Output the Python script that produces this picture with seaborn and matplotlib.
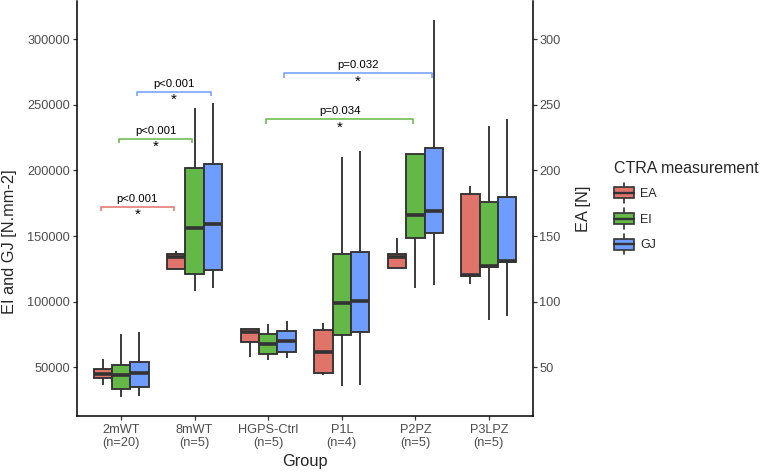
"""Boxplots of CTRA measurements (EA, EI, GJ) per mouse group with significance brackets"""

import numpy as np
import pandas as pd
import matplotlib
matplotlib.use('Agg')
import matplotlib.pyplot as plt
import seaborn as sns
from matplotlib.legend_handler import HandlerBase
from matplotlib.patches import Patch, Rectangle
from matplotlib.lines import Line2D

# Groups and sample sizes
group_names = ['2mWT', '8mWT', 'HGPS-Ctrl', 'P1L', 'P2PZ', 'P3LPZ']
group_n = [20, 5, 5, 4, 5, 5]
measures = ['EA', 'EI', 'GJ']

# five-number summaries per group: [lower whisker, Q1, median, Q3, upper whisker]
# EA in N (right axis), EI and GJ in N.mm-2 (left axis)
ea_summary = [
    [36.5, 41.9, 45.0, 49.0, 56.6],
    [125.3, 125.3, 133.9, 136.7, 139.0],
    [57.6, 69.4, 77.2, 79.0, 79.5],
    [44.2, 45.4, 61.4, 78.5, 83.9],
    [125.8, 125.8, 134.2, 136.5, 148.7],
    [113.3, 119.4, 120.5, 181.8, 188.1],
]
ei_summary = [
    [27600, 33500, 43900, 52000, 75700],
    [108500, 121500, 156000, 201600, 247300],
    [55300, 60500, 68100, 75700, 83100],
    [35500, 74900, 99400, 136000, 210500],
    [110500, 148700, 166000, 212300, 212300],
    [86400, 126600, 127400, 175900, 233900],
]
gj_summary = [
    [28400, 35000, 45700, 53800, 76700],
    [110500, 124500, 159400, 205200, 251000],
    [56900, 61700, 69800, 78000, 85100],
    [36800, 76700, 100900, 137700, 214800],
    [113100, 152000, 169300, 217100, 314700],
    [89400, 130600, 131200, 180000, 239000],
]

# significance comparisons: (group a, group b, measure, label)
comparisons = [
    ('2mWT', '8mWT', 'EA', 'p<0.001'),
    ('2mWT', '8mWT', 'EI', 'p<0.001'),
    ('2mWT', '8mWT', 'GJ', 'p<0.001'),
    ('HGPS-Ctrl', 'P2PZ', 'EI', 'p=0.034'),
    ('HGPS-Ctrl', 'P2PZ', 'GJ', 'p=0.032'),
]
bracket_heights = [172400, 224000, 260000, 239000, 274100]

EA_SCALE = 1000  # EA [N] shown on the left axis scale as EA * 1000

palette = {'EA': '#E0736A', 'EI': '#63B847', 'GJ': '#6F9CFF'}
line_col = '#333333'
tick_col = '#4D4D4D'


class BoxKey(HandlerBase):
    """ggplot-like boxplot legend key"""
    def create_artists(self, legend, orig_handle, xdescent, ydescent,
                       width, height, fontsize, trans):
        fc = orig_handle.get_facecolor()
        x0, y0 = -xdescent, -ydescent
        bh = height * 0.66
        by = y0 + (height - bh) / 2
        xm = x0 + width / 2
        lo = Line2D([xm, xm], [y0 - 1, by], color=line_col, lw=1.2, transform=trans)
        hi = Line2D([xm, xm], [by + bh, y0 + height + 1], color=line_col, lw=1.2, transform=trans)
        rect = Rectangle((x0, by), width, bh, facecolor=fc, edgecolor=line_col,
                         lw=1.2, transform=trans)
        med = Line2D([x0, x0 + width], [y0 + height / 2] * 2, color=line_col,
                     lw=1.7, transform=trans)
        return [lo, hi, rect, med]


def build_frame():
    rows = []
    for measure, summary in zip(measures, [ea_summary, ei_summary, gj_summary]):
        scale = EA_SCALE if measure == 'EA' else 1
        for g, vals in zip(group_names, summary):
            for v in vals:
                rows.append({'group': g, 'measure': measure, 'value': v * scale})
    return pd.DataFrame(rows)


def main():
    sns.set_style('ticks')
    plt.rcParams['font.family'] = ['Liberation Sans', 'DejaVu Sans']

    df = build_frame()

    fig = plt.figure(figsize=(7.62, 4.72), dpi=100)
    ax = fig.add_axes([0.101, 0.1193, 0.5985, 0.8787])

    sns.boxplot(
        data=df, x='group', y='value', hue='measure',
        order=group_names, hue_order=measures, palette=palette,
        width=0.75, gap=0, whis=1.5, showfliers=False, showcaps=False,
        linewidth=1.35, linecolor=line_col, saturation=1,
        medianprops={'linewidth': 2.6, 'color': line_col},
        legend=False, ax=ax,
    )

    ylo, yhi = 13245, 329055
    ax.set_xlim(-0.6, 5.6)
    ax.set_ylim(ylo, yhi)

    # significance brackets
    offsets = {'EA': -0.25, 'EI': 0.0, 'GJ': 0.25}
    tick_len = 3400
    for (ga, gb, m, label), h in zip(comparisons, bracket_heights):
        xa = group_names.index(ga) + offsets[m] - 0.03
        xb = group_names.index(gb) + offsets[m] - 0.03
        ax.plot([xa, xa, xb, xb], [h - tick_len, h, h, h - tick_len],
                color=palette[m], lw=1.1, solid_capstyle='butt')
        xm = (xa + xb) / 2
        ax.text(xm, h + 2200, label, ha='center', va='bottom', fontsize=8.2, color='black')
        ax.text(xm, h - 900, '*', ha='center', va='top', fontsize=11, color='black')

    # axes styling
    ax.set_xticks(range(len(group_names)))
    ax.set_xticklabels([f'{g}\n(n={n})' for g, n in zip(group_names, group_n)],
                       linespacing=1.12)
    yt = np.arange(50000, 300001, 50000)
    ax.set_yticks(yt)
    ax.set_yticklabels([str(int(v)) for v in yt])
    ax.tick_params(axis='both', colors=line_col, labelcolor=tick_col, labelsize=9.2,
                   length=2.75, width=0.9, pad=2.2)
    ax.tick_params(axis='x', pad=3.4)
    ax.set_xlabel('Group', fontsize=11.8)
    ax.set_ylabel('EI and GJ [N.mm-2]', fontsize=11.8)
    ax.xaxis.set_label_coords(0.499, -0.092)
    ax.yaxis.set_label_coords(-0.132, 0.419)
    for side in ['top', 'right']:
        ax.spines[side].set_visible(False)
    for side in ['left', 'bottom']:
        ax.spines[side].set_color('black')
        ax.spines[side].set_linewidth(1.1)

    # right axis for EA
    ax2 = ax.twinx()
    ax2.set_ylim(ylo / EA_SCALE, yhi / EA_SCALE)
    ax2.set_yticks(np.arange(50, 301, 50))
    ax2.tick_params(axis='y', colors=line_col, labelcolor=tick_col, labelsize=9.2,
                    length=2.75, width=0.9, pad=1.6)
    for side in ['top', 'left', 'bottom']:
        ax2.spines[side].set_visible(False)
    ax2.spines['right'].set_color('black')
    ax2.spines['right'].set_linewidth(1.1)
    ax.text(1.11, 0.498, 'EA [N]', rotation=90, ha='center', va='center',
            fontsize=11.8, transform=ax.transAxes)

    # legend
    handles = [Patch(facecolor=palette[m]) for m in measures]
    fig.legend(handles, measures, title='CTRA measurement',
               handler_map={Patch: BoxKey()},
               loc='upper left', bbox_to_anchor=(0.798, 0.673),
               frameon=False, fontsize=9, title_fontsize=11.5,
               handlelength=1.6, handleheight=1.75, handletextpad=0.45,
               labelspacing=0.68, borderpad=0, alignment='left')

    fig.savefig('out.png', dpi=100)
    plt.close(fig)


if __name__ == '__main__':
    main()
